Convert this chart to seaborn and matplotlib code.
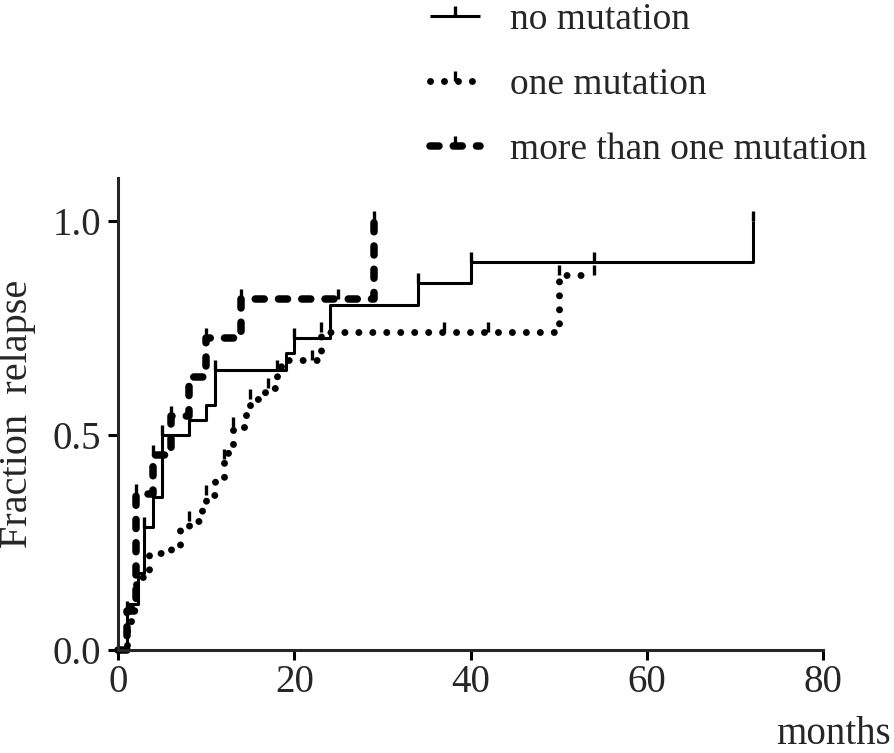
import numpy as np
import pandas as pd
import seaborn as sns
import matplotlib.pyplot as plt
from matplotlib.path import Path
from matplotlib.lines import Line2D

# Cumulative relapse curves (step times in months, fraction relapsed)
no_mut_months = [0, 1, 2.3, 3, 4, 5, 8, 10, 11, 19, 20, 24, 34, 40, 72]
no_mut_frac = [0, 0.107, 0.18, 0.287, 0.357, 0.50, 0.536, 0.571, 0.653,
               0.692, 0.727, 0.804, 0.855, 0.904, 1.0]

one_mut_months = [0, 1, 1.5, 2, 3.5, 6, 7, 8, 9.5, 10, 11, 12, 12.5, 13,
                  14.5, 15, 16.7, 18, 18.5, 23, 50, 54]
one_mut_frac = [0, 0.05, 0.11, 0.17, 0.225, 0.245, 0.28, 0.30, 0.335, 0.36,
                0.40, 0.445, 0.48, 0.52, 0.555, 0.585, 0.61, 0.653, 0.676,
                0.742, 0.874, 0.874]

multi_mut_months = [0, 1, 2, 4, 6, 8, 10, 14, 29]
multi_mut_frac = [0, 0.091, 0.364, 0.455, 0.545, 0.636, 0.727, 0.818, 1.0]

# censored observations (months)
no_mut_censored = [3, 5, 11, 20, 34, 40, 54, 72]
one_mut_censored = [8, 10, 12, 13, 15, 17, 18, 22, 23, 37, 42, 50, 54]
multi_mut_censored = [1, 2, 4, 6, 10, 14, 25, 29]

labels = ["no mutation", "one mutation", "more than one mutation"]

sns.set_style("ticks")
plt.rcParams["font.family"] = ["Liberation Serif", "DejaVu Serif"]
plt.rcParams["axes.linewidth"] = 2.2


def frac_at(months, frac, t):
    # value of the step curve at time t
    idx = np.searchsorted(months, t, side="right") - 1
    return np.asarray(frac)[idx]


# upward censor tick
tick_marker = Path([(0, 0), (0, 1)], [Path.MOVETO, Path.LINETO])

curves = [
    (no_mut_months, no_mut_frac, no_mut_censored,
     dict(linestyle="-", linewidth=2.2, solid_capstyle="butt")),
    (one_mut_months, one_mut_frac, one_mut_censored,
     dict(linestyle=(0, (0.01, 2.0)), linewidth=5.0, dash_capstyle="round")),
    (multi_mut_months, multi_mut_frac, multi_mut_censored,
     dict(linestyle=(0, (1.2, 1.9)), linewidth=5.4, dash_capstyle="round")),
]

fig = plt.figure(figsize=(8.94, 7.53), dpi=100)
ax = fig.add_axes([0.132, 0.1368, 0.789, 0.627])

handles = []
for (months, frac, cens, style), label in zip(curves, labels):
    df = pd.DataFrame({"months": months, "frac": frac})
    sns.lineplot(data=df, x="months", y="frac", ax=ax, color="black",
                 estimator=None, sort=False, drawstyle="steps-post",
                 clip_on=False, **style)
    cens_frac = frac_at(months, frac, cens)
    ax.plot(cens, cens_frac, linestyle="none", marker=tick_marker,
            markersize=14, markeredgewidth=2.4, color="black", clip_on=False)
    handles.append(Line2D([], [], color="black", marker=tick_marker,
                          markersize=14, markeredgewidth=2.4, label=label,
                          **style))

ax.set_xlim(0, 80)
ax.set_ylim(0, 1.1)
ax.set_xticks([0, 20, 40, 60, 80])
ax.set_yticks([0.0, 0.5, 1.0])
ax.set_yticklabels(["0.0", "0.5", "1.0"])
ax.tick_params(axis="both", length=7, width=2.2, labelsize=28, color="black")
ax.tick_params(axis="x", pad=3)
ax.tick_params(axis="y", pad=5)
sns.despine(ax=ax)

ax.set_ylabel("Fraction  relapse", fontsize=29, labelpad=12)
ax.set_xlabel("months", fontsize=28, ha="right")
ax.xaxis.set_label_coords(1.096, -0.14)

fig.legend(handles=handles, loc="upper left", bbox_to_anchor=(0.481, 0.997),
           frameon=False, fontsize=27, handlelength=1.33, handletextpad=0.8,
           labelspacing=0.82, borderpad=0, borderaxespad=0, numpoints=1)

fig.savefig("out.png", dpi=100)
